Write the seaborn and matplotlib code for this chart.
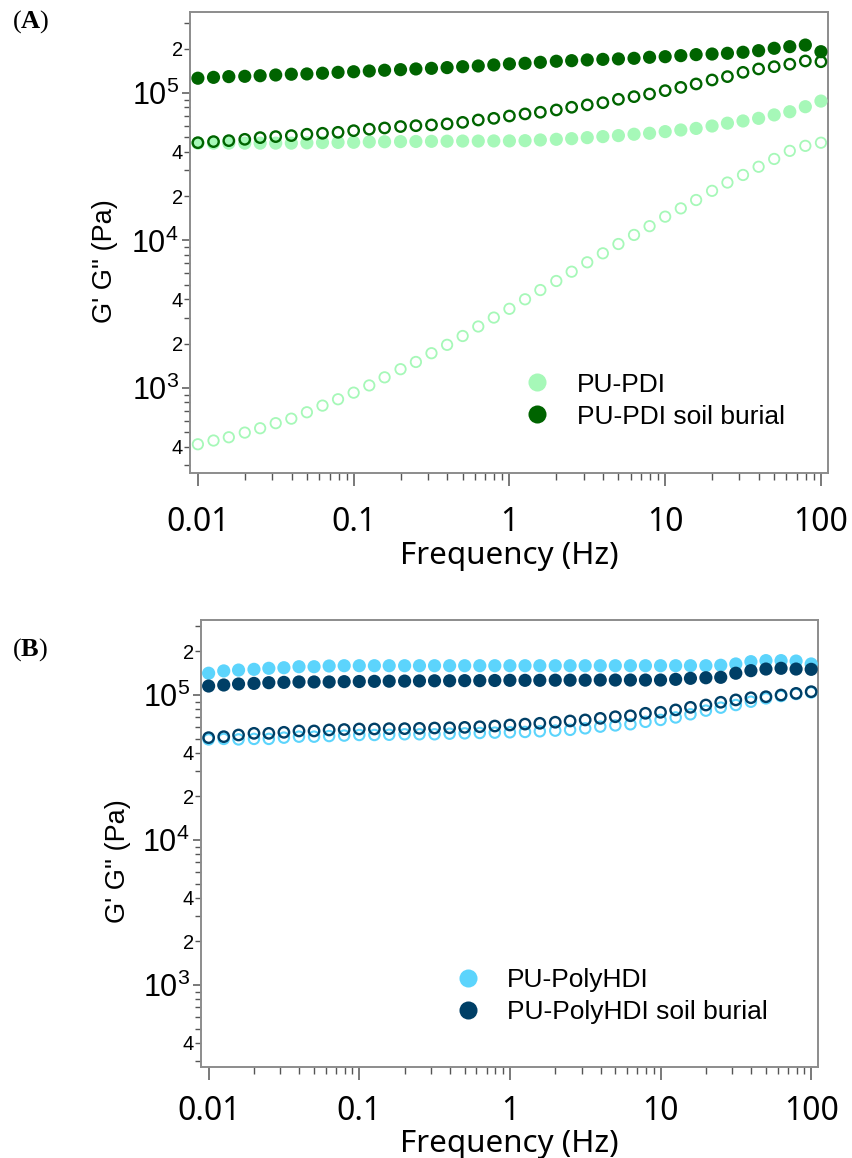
import numpy as np
import matplotlib.pyplot as plt
import seaborn as sns
from matplotlib.lines import Line2D

# --- Data ---
freq = [0.01, 0.0126, 0.0158, 0.02, 0.0251, 0.0316, 0.0398, 0.0501, 0.0631, 0.0794,
        0.1, 0.126, 0.158, 0.2, 0.251, 0.316, 0.398, 0.501, 0.631, 0.794,
        1.0, 1.26, 1.58, 2.0, 2.51, 3.16, 3.98, 5.01, 6.31, 7.94,
        10.0, 12.6, 15.8, 20.0, 25.1, 31.6, 39.8, 50.1, 63.1, 79.4, 100.0]

# panel A: PU-PDI
pdi_gp = [45700, 45700, 45700, 45700, 45700, 45700, 45700, 45900, 46100, 46200,
          46300, 46600, 46700, 46800, 46900, 47000, 47100, 47200, 47200, 47300,
          47300, 47500, 48000, 48500, 49000, 49800, 50600, 51400, 52500, 53300,
          54700, 56100, 57500, 59700, 62400, 64600, 67300, 71000, 74600, 80700, 88100]
pdi_gpp = [415, 440, 463, 498, 533, 577, 619, 684, 759, 838,
           929, 1040, 1180, 1340, 1500, 1720, 1960, 2250, 2610, 3000,
           3440, 3990, 4610, 5310, 6140, 7110, 8180, 9460, 10900, 12500,
           14500, 16500, 18800, 21700, 24700, 27800, 31600, 35700, 40500, 43800, 46000]
pdi_soil_gp = [125900, 127600, 129100, 129700, 130900, 132400, 134000, 134600, 136100, 138000,
               139300, 140900, 142600, 143900, 145500, 146900, 148600, 150700, 152400, 154900,
               157400, 158900, 161400, 164100, 165600, 167500, 169000, 170200, 171800, 174600,
               176200, 179100, 182000, 183700, 185800, 188800, 193600, 200900, 206100, 211300, 190500]
pdi_soil_gpp = [46000, 46800, 47500, 48500, 49800, 50600, 51400, 52500, 53300, 54100,
                55500, 56800, 57900, 59200, 60000, 60700, 61700, 63200, 65600, 67300,
                69800, 72100, 74000, 76700, 80000, 83000, 85900, 90600, 94400, 98400,
                103700, 109100, 115100, 122500, 129100, 138000, 145500, 150700, 156700, 164800, 162900]

# panel B: PU-PolyHDI
hdi_gp = [141300, 146600, 148600, 150300, 152800, 154200, 156700, 156700, 158500, 159200,
          159200, 159200, 159200, 159200, 159200, 159200, 159200, 159200, 159200, 159200,
          159200, 159200, 159200, 159200, 159200, 159200, 159200, 159200, 159200, 159200,
          159200, 159200, 159200, 159200, 160300, 163700, 169800, 172600, 172600, 171400, 163700]
hdi_gpp = [49400, 49800, 49400, 49800, 49800, 50800, 51600, 51600, 52100, 52500,
           53000, 53000, 53200, 53600, 53600, 53600, 54100, 54400, 54700, 55000,
           55300, 55600, 56200, 56800, 57500, 58900, 60500, 61700, 62800, 65300,
           67300, 70000, 73600, 78000, 81800, 85300, 89900, 94800, 98400, 101600, 104200]
hdi_soil_gp = [115300, 117200, 119100, 120200, 121600, 122200, 123000, 123000, 123000, 123600,
               123900, 124200, 124500, 124700, 125000, 125300, 125300, 125600, 125600, 125900,
               126200, 126200, 126200, 126500, 126500, 126500, 126800, 126800, 126800, 126800,
               126800, 128200, 130300, 131500, 132400, 141300, 147200, 151000, 152800, 151000, 150300]
hdi_soil_gpp = [50800, 51600, 53000, 54400, 54400, 55300, 56500, 56500, 57400, 57800,
                58300, 58300, 58600, 58600, 58900, 59200, 59400, 59800, 60400, 61100,
                62100, 63000, 63800, 64900, 66200, 67300, 69000, 70800, 71900, 74800,
                76000, 78900, 82200, 85300, 89100, 92500, 95700, 97300, 100000, 102600, 105400]

x_major = [0.01, 0.1, 1, 10, 100]
x_major_labels = ['0.01', '0.1', '1', '10', '100']
y_major = [1e3, 1e4, 1e5]
y_major_labels = ['$10^{3}$', '$10^{4}$', '$10^{5}$']

# --- Style ---
sns.set_theme(style='white')
plt.rcParams['font.family'] = ['Liberation Sans', 'DejaVu Sans']
plt.rcParams['mathtext.fontset'] = 'custom'
plt.rcParams['mathtext.bf'] = 'Liberation Serif:bold'
plt.rcParams['mathtext.default'] = 'regular'
plt.rcParams['text.color'] = 'black'
plt.rcParams['axes.labelcolor'] = 'black'

SPINE = '#8c8c8c'
TICK = '#555555'


def draw_panel(ax, series, legend_labels, legend_colors, legend_anchor, ylim, xpad):
    for vals, color, hollow, lw in series:
        if hollow:
            sns.scatterplot(x=freq, y=vals, ax=ax, color=color, facecolor='none',
                            edgecolor=color, s=56, linewidth=lw, legend=False, zorder=3)
        else:
            sns.scatterplot(x=freq, y=vals, ax=ax, color=color, edgecolor='none',
                            s=90, linewidth=0, legend=False, zorder=3)
    ax.set_xscale('log')
    ax.set_yscale('log')
    ax.set_xlim(0.0089, 111)
    ax.set_ylim(*ylim)

    # x ticks
    x_minor = [m * d for d in [0.01, 0.1, 1, 10] for m in range(2, 10)]
    ax.set_xticks(x_major, labels=x_major_labels, fontfamily='Noto Sans', fontsize=23)
    ax.set_xticks(x_minor, minor=True, labels=[''] * len(x_minor))
    # y ticks, only 2 and 4 of each decade get a label
    y_minor = [m * d for d in [100, 1000, 10000, 100000] for m in range(2, 10)
               if ylim[0] <= m * d <= ylim[1]]
    y_minor_labels = [str(int(round(v / 10 ** np.floor(np.log10(v))))) if
                      round(v / 10 ** np.floor(np.log10(v))) in (2, 4) else '' for v in y_minor]
    ax.set_yticks(y_major, labels=y_major_labels, fontsize=22)
    ax.set_yticks(y_minor, minor=True, labels=y_minor_labels, fontsize=14.5)

    ax.tick_params(axis='x', which='major', direction='out', length=9, width=1.1,
                   color=TICK, labelcolor='black', pad=xpad, bottom=True)
    ax.tick_params(axis='x', which='minor', direction='out', length=5, width=1.0,
                   color=TICK, bottom=True)
    ax.tick_params(axis='y', which='major', direction='out', length=6, width=1.1,
                   color=TICK, labelcolor='black', pad=2, left=True)
    ax.tick_params(axis='y', which='minor', direction='out', length=4, width=1.0,
                   color=TICK, labelcolor='black', pad=1, left=True)

    for sp in ax.spines.values():
        sp.set_color(SPINE)
        sp.set_linewidth(1.4)

    ax.set_xlabel('Frequency (Hz)', fontfamily='Noto Sans', fontsize=22.5, labelpad=1)
    ax.set_ylabel("G' G'' (Pa)", fontsize=19.5)
    ax.yaxis.set_label_coords(-0.113, 0.46)
    ax.grid(False)

    handles = [Line2D([], [], linestyle='none', marker='o', markersize=13,
                      markerfacecolor=c, markeredgecolor='none') for c in legend_colors]
    ax.legend(handles, legend_labels, loc='center left', bbox_to_anchor=legend_anchor,
              frameon=False, fontsize=19, handlelength=1.0, handletextpad=1.0,
              labelspacing=0.3, borderpad=0, borderaxespad=0)


fig = plt.figure(figsize=(8.52, 11.58), dpi=100)
ax_a = fig.add_axes([190 / 852, 1 - 473 / 1158, 638 / 852, 461 / 1158])
ax_b = fig.add_axes([201 / 852, 1 - 1067 / 1158, 617 / 852, 447 / 1158])

light_green = '#a6f8b8'
dark_green = '#006400'
light_blue = '#5cd4fc'
navy = '#003f66'

draw_panel(ax_a,
           [(pdi_gp, light_green, False, 0),
            (pdi_gpp, light_green, True, 1.3),
            (pdi_soil_gp, dark_green, False, 0),
            (pdi_soil_gpp, dark_green, True, 1.7)],
           ['PU-PDI', 'PU-PDI soil burial'], [light_green, dark_green],
           (0.5235, 0.157), (265, 3.54e5), 15)

draw_panel(ax_b,
           [(hdi_gp, light_blue, False, 0),
            (hdi_gpp, light_blue, True, 1.5),
            (hdi_soil_gp, navy, False, 0),
            (hdi_soil_gpp, navy, True, 1.7)],
           ['PU-PolyHDI', 'PU-PolyHDI soil burial'], [light_blue, navy],
           (0.411, 0.159), (272, 3.29e5), 11)

fig.text(12 / 852, 1 - 22 / 1158, r'($\mathbf{A}$)', fontfamily='Liberation Serif',
         fontsize=19, ha='left', va='center')
fig.text(12 / 852, 1 - 650 / 1158, r'($\mathbf{B}$)', fontfamily='Liberation Serif',
         fontsize=19, ha='left', va='center')

fig.savefig('out.png', dpi=100)
